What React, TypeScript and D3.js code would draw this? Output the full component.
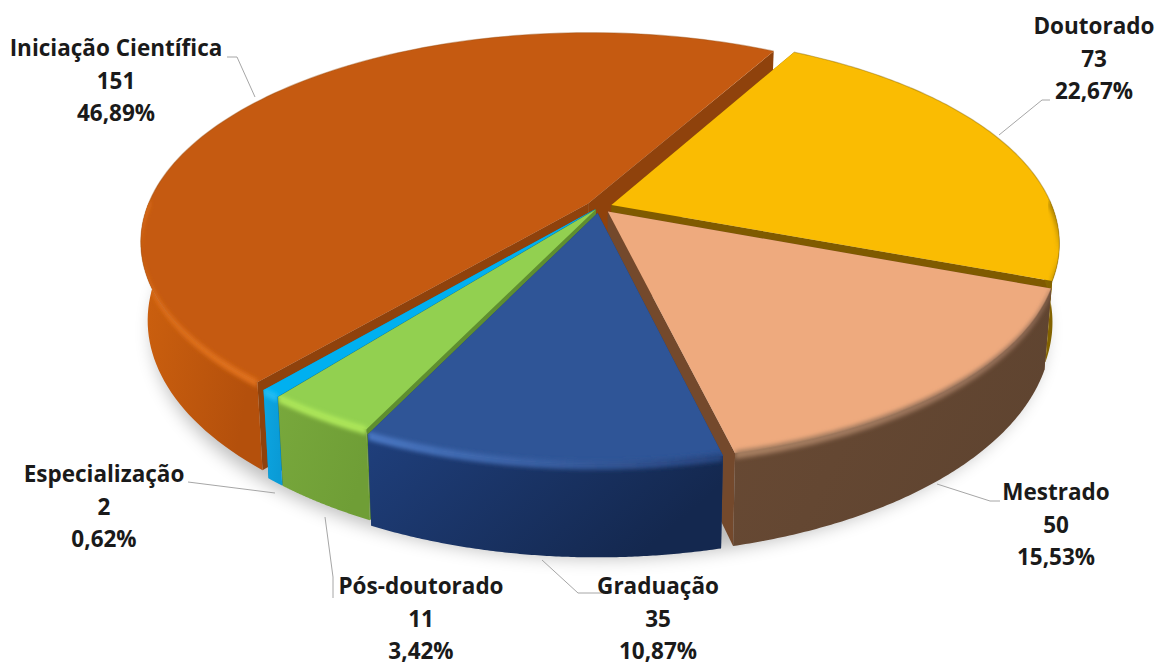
import React from "react";
import * as d3 from "d3";

const categories = ["Doutorado", "Mestrado", "Graduação", "Pós-doutorado", "Especialização", "Iniciação Científica"];
const counts = [73, 50, 35, 11, 2, 151];
const percents = ["22,67%", "15,53%", "10,87%", "3,42%", "0,62%", "46,89%"];

const topColors = ["#fabc02", "#eeaa7e", "#2f5597", "#92d050", "#00b0f0", "#c55a11"];
const wallStart = ["#8a6800", "#694a34", "#1f3f7c", "#78a83c", "#0ca6e2", "#cf620f"];
const wallEnd = ["#7f6000", "#5f4430", "#14284f", "#6f9e36", "#0a9bd6", "#b4500c"];
const rimStart = ["#7f6000", "#a67e60", "#4a78c4", "#aee85a", "#22bdf5", "#e2721c"];
const rimEnd = ["#7f6000", "#96705a", "#27457f", "#aee85a", "#22bdf5", "#e2721c"];
const sideColors = ["#7f5a00", "#74492c", "#1f3a70", "#5f8f30", "#0a80b0", "#8f420c"];
const edgeColors = ["#7f6000", "#6b4a30", "#2f5597", "#92d050", "#00b0f0", "#9a5014"];
const explodes = [0.03, 0.03, 0.03, 0.014, 0.014, 0.03];

// label centre x, first baseline y
const labelPos: [number, number][] = [
  [1094, 34], [1056, 500], [658, 594], [421, 594], [104, 482], [116, 56],
];
const leaders: [number, number][][] = [
  [[1050, 100], [1042, 100], [999, 135]],
  [[1000, 501], [990, 501], [937, 484]],
  [[604, 593], [578, 593], [542, 560]],
  [[333, 598], [333, 577], [325, 517]],
  [[188, 482], [275, 493]],
  [[227, 57], [237, 57], [255, 97]],
];

const W = 1162, H = 664;
const cx = 599, cy = 207, Rx = 441, Ry = 203, k = 0.181, D = 76;
const startDeg = 29;
const rad = (d: number) => (d * Math.PI) / 180;

type P = [number, number];
function project(u: number, v: number, z: number): P {
  const s = 1 / (1 - k * v);
  return [cx + Rx * u * s * (1 - 0.015 * z), cy + Ry * v * s + D * z * s];
}
const pie = d3.pie<number>().sort(null).startAngle(rad(startDeg)).endAngle(rad(startDeg + 360));
const arcs = pie(counts);
const line = d3.line();

function pt(a: number, r: number, off: P, z: number): P {
  return project(off[0] + r * Math.sin(a), off[1] - r * Math.cos(a), z);
}
function samples(a0: number, a1: number): number[] {
  return d3.range(0, 121).map((i) => a0 + ((a1 - a0) * i) / 120);
}

const order = [5, 0, 1, 4, 3, 2];

export default function App() {
  const shadowPts = samples(0, 2 * Math.PI).map((a) => {
    const p = pt(a, 1.01, [0, 0], 1);
    return [p[0], p[1] + 7] as P;
  });
  return (
    <svg width={W} height={H} style={{ position: "absolute", left: 0, top: 0, background: "#fff" }}>
      <defs>
        {counts.map((_, i) => (
          <linearGradient key={i} id={`wall${i}`} x1="0" y1="0" x2="1" y2="0.4">
            <stop offset="0" stopColor={wallStart[i]} />
            <stop offset="1" stopColor={wallEnd[i]} />
          </linearGradient>
        ))}
        {counts.map((_, i) => (
          <linearGradient key={i} id={`rim${i}`} x1="0" y1="0" x2="1" y2="0">
            <stop offset="0" stopColor={rimStart[i]} />
            <stop offset="1" stopColor={rimEnd[i]} />
          </linearGradient>
        ))}
        <filter id="blurBig" x="-10%" y="-10%" width="120%" height="120%">
          <feGaussianBlur stdDeviation="9" />
        </filter>
        <filter id="blurRim" x="-10%" y="-40%" width="120%" height="180%">
          <feGaussianBlur stdDeviation="2" />
        </filter>
      </defs>
      <path d={line(shadowPts)! + "Z"} fill="#000" opacity={0.26} filter="url(#blurBig)" />
      {order.map((i) => {
        const d = arcs[i];
        const mid = (d.startAngle + d.endAngle) / 2;
        const e = explodes[i];
        const off: P = [e * Math.sin(mid), -e * Math.cos(mid)];
        const as = samples(d.startAngle, d.endAngle);
        const outerTop = as.map((a) => pt(a, 1, off, 0));
        const apexTop = project(off[0], off[1], 0);
        const apexBot = project(off[0], off[1], 1);
        const sEdgeT = pt(d.startAngle, 1, off, 0);
        const sEdgeB = pt(d.startAngle, 1, off, 1);
        const eEdgeT = pt(d.endAngle, 1, off, 0);
        const eEdgeB = pt(d.endAngle, 1, off, 1);
        const front = as.filter((a) => Math.cos(a) < 0.03);
        const wallT = front.map((a) => pt(a, 1, off, 0));
        const wallB = front.map((a) => pt(a, 1, off, 1));
        const rimA = front.map((a) => pt(a, 1, off, -0.03));
        const rimB = front.map((a) => pt(a, 1, off, 0.06));
        const clipId = `clipBody${i}`;
        const wallPath = line([...wallT, ...wallB.slice().reverse()])! + "Z";
        const topPath = line([apexTop, ...outerTop])! + "Z";
        return (
          <g key={i}>
            <path d={line([apexTop, sEdgeT, sEdgeB, apexBot])! + "Z"} fill={sideColors[i]} />
            <path d={line([apexTop, eEdgeT, eEdgeB, apexBot])! + "Z"} fill={sideColors[i]} />
            <clipPath id={clipId}>
              <path d={wallPath + topPath} />
            </clipPath>
            {front.length > 1 && <path d={wallPath} fill={`url(#wall${i})`} />}
            <path d={topPath} fill={topColors[i]} />
            <path d={line(outerTop)!} fill="none" stroke={edgeColors[i]} strokeWidth={1.2} opacity={0.4} />
            {front.length > 1 && (
              <g clipPath={`url(#${clipId})`}>
                <path
                  d={line([...rimA, ...rimB.slice().reverse()])! + "Z"}
                  fill={`url(#rim${i})`}
                  filter="url(#blurRim)"
                />
              </g>
            )}
          </g>
        );
      })}
      {leaders.map((l, i) => (
        <path key={i} d={line(l)!} fill="none" stroke="#a6a6a6" strokeWidth={1} />
      ))}
      {categories.map((c, i) => (
        <text
          key={c}
          textAnchor="middle"
          fontFamily="'Open Sans', sans-serif"
          fontWeight={700}
          fontSize={22.5}
          fill="#1a1a1a"
        >
          {[c, String(counts[i]), percents[i]].map((t, j) => (
            <tspan key={j} x={labelPos[i][0]} y={labelPos[i][1] + j * 32.5}>
              {t}
            </tspan>
          ))}
        </text>
      ))}
    </svg>
  );
}
